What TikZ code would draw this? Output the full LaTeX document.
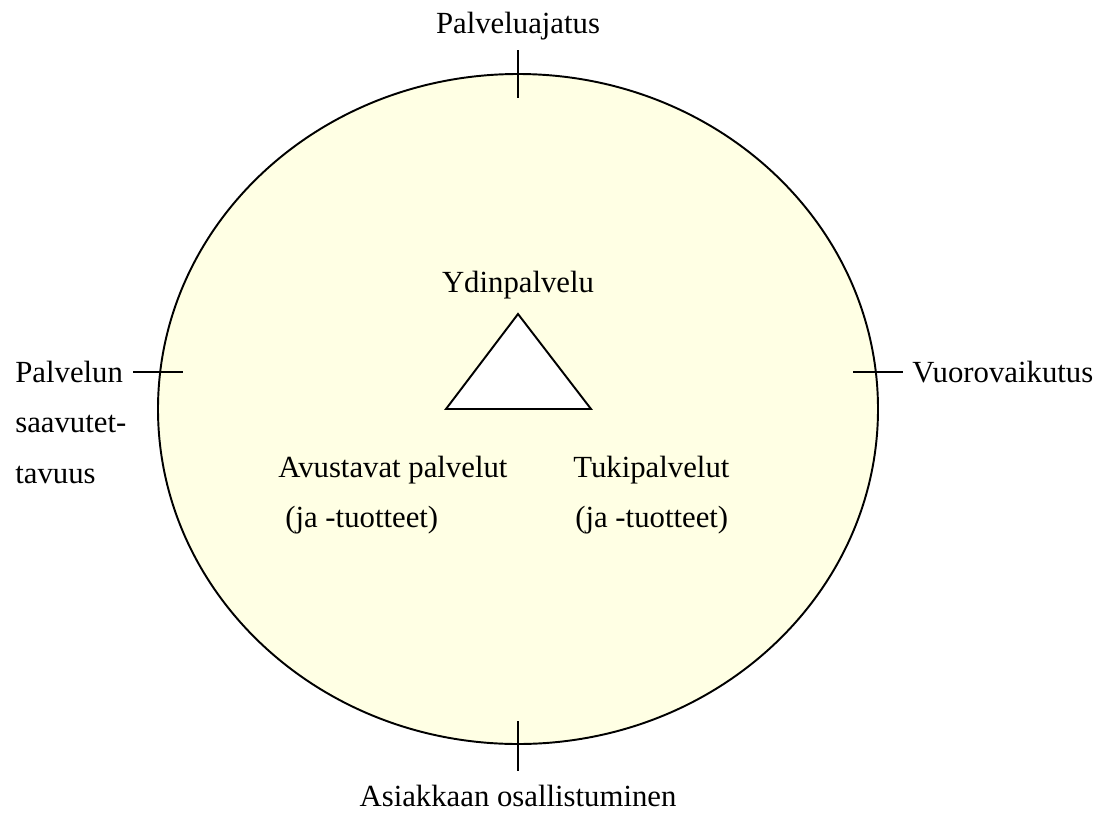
\documentclass[tikz,border=0pt]{standalone}
\usepackage{fontspec}
\setmainfont{Liberation Serif}
\definecolor{paleyellow}{RGB}{255,255,228}

\begin{document}
\begin{tikzpicture}[x=0.02cm,y=-0.02cm]

\tikzset{
  label text/.style={
    inner sep=0pt,
    font=\fontsize{17.5}{20}\selectfont,
  },
  tick/.style={line width=0.9pt},
}

\useasboundingbox (0,0) rectangle (1109,812);

% Outer ellipse
\draw[line width=1.1pt, fill=paleyellow] (518,409) ellipse [x radius=360, y radius=335];

% Core triangle
\coordinate (apex) at (518,314);
\coordinate (baseL) at (446,409);
\coordinate (baseR) at (591,409);
\draw[line width=1.1pt, fill=white] (apex) -- (baseR) -- (baseL) -- cycle;

% Tick ends
\coordinate (topA) at (518,50);
\coordinate (topB) at (518,98);
\coordinate (botA) at (518,721);
\coordinate (botB) at (518,771);
\coordinate (leftA) at (133,372);
\coordinate (leftB) at (183,372);
\coordinate (rightA) at (853,372);
\coordinate (rightB) at (903,372);

\draw[tick] (topA) -- (topB);
\draw[tick] (botA) -- (botB);
\draw[tick] (leftA) -- (leftB);
\draw[tick] (rightA) -- (rightB);

% Outer labels
\node[label text] (idea) at (518,26) {Palveluajatus};
\node[label text] (part) at (518,796) {Asiakkaan osallistuminen};
\node[label text, anchor=west] (access1) at (15,372) {Palvelun};
\node[label text, anchor=west] (access2) at (15,424) {saavutet-};
\node[label text, anchor=west] (access3) at (15,475) {tavuus};
\node[label text, anchor=west] (inter) at (912,372) {Vuorovaikutus};

% Inner labels
\node[label text] (core) at (518,285) {Ydinpalvelu};
\node[label text, anchor=west] (aux1) at (278,470) {Avustavat palvelut};
\node[label text, anchor=west] (aux2) at (285,520) {(ja -tuotteet)};
\node[label text, anchor=west] (sup1) at (573,470) {Tukipalvelut};
\node[label text, anchor=west] (sup2) at (575,520) {(ja -tuotteet)};

\end{tikzpicture}
\end{document}
